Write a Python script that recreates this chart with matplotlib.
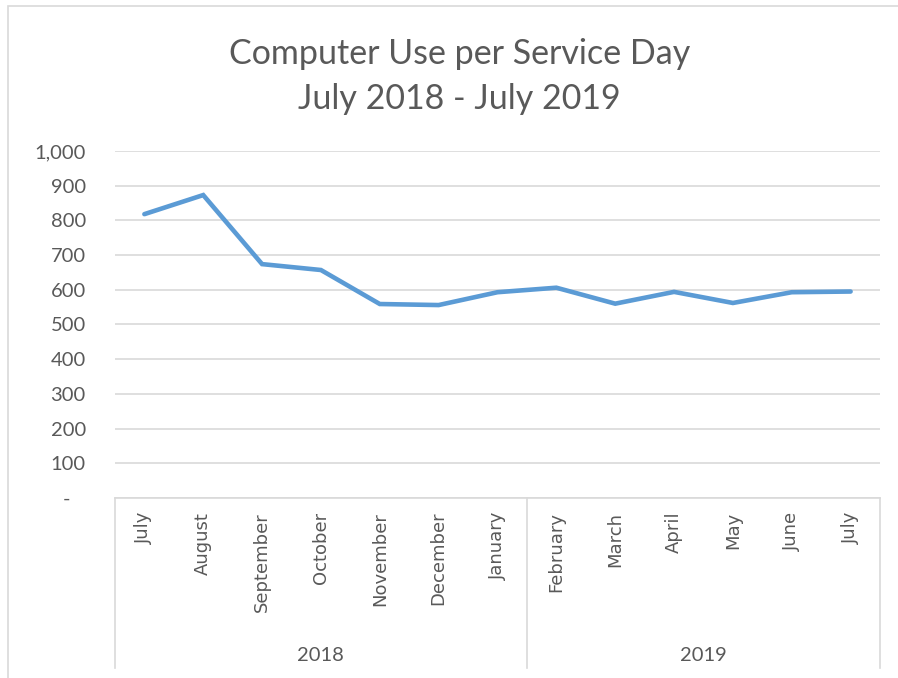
import matplotlib
matplotlib.use("Agg")
import matplotlib.pyplot as plt
from matplotlib.ticker import FuncFormatter

months = ["July", "August", "September", "October", "November", "December", "January",
          "February", "March", "April", "May", "June", "July"]
years = ["2018", "2019"]
year_spans = [(0, 6), (7, 12)]
usage = [818, 873, 674, 657, 559, 556, 593, 606, 560, 594, 562, 593, 595]

plt.rcParams["font.family"] = ["Lato", "DejaVu Sans"]
text_color = "#595959"

fig = plt.figure(figsize=(8.98, 6.78), dpi=100)
ax = fig.add_axes([0.128, 0.2655, 0.852, 0.5118])

x = list(range(len(months)))
ax.plot(x, usage, color="#5B9BD5", linewidth=3.3, solid_capstyle="round", solid_joinstyle="miter")

ax.set_xlim(-0.5, len(months) - 0.5)
ax.set_ylim(0, 1000)
ax.set_yticks(range(0, 1001, 100))
ax.yaxis.set_major_formatter(FuncFormatter(lambda v, p: "-   " if v == 0 else f"{int(v):,}"))
ax.grid(axis="y", color="#D9D9D9", linewidth=1.2)
ax.set_axisbelow(True)
for s in ["top", "right", "left"]:
    ax.spines[s].set_visible(False)
ax.spines["bottom"].set_color("#D9D9D9")
ax.spines["bottom"].set_linewidth(1.2)
ax.tick_params(axis="y", length=0, pad=21, labelsize=14.5, labelcolor=text_color)
ax.tick_params(axis="x", length=0)
ax.set_xticks(x)
ax.set_xticklabels([])

# month labels
tr = ax.get_xaxis_transform()
for i, m in enumerate(months):
    ax.text(i, -0.04, m, rotation=90, ha="center", va="top", transform=tr,
            fontsize=13, color=text_color, family=["DejaVu Sans"])

# multi-level category axis
bottom = -0.49
for bx in [-0.5, 6.5, 12.5]:
    ax.plot([bx, bx], [0, bottom], transform=tr, color="#D9D9D9", linewidth=1.2, clip_on=False)
for yr, (a, b) in zip(years, year_spans):
    ax.text((a + b) / 2, -0.455, yr, ha="center", va="center", transform=tr,
            fontsize=14.5, color=text_color)

fig.text(0.512, 0.921, "Computer Use per Service Day", ha="center", va="center",
         fontsize=24.5, color=text_color)
fig.text(0.512, 0.854, "July 2018 - July 2019", ha="center", va="center",
         fontsize=24.5, color=text_color)

# chart border
fig.patches.append(plt.Rectangle((8 / 898, -0.01), 1.0, 1 - 6 / 678 + 0.01, transform=fig.transFigure,
                                 fill=False, edgecolor="#D9D9D9", linewidth=1.2))

fig.savefig("out.png", dpi=100)
